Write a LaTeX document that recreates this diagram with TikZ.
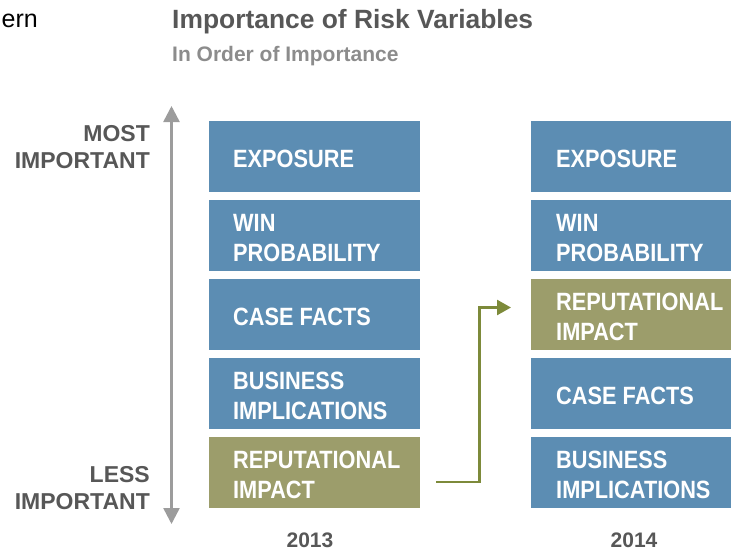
\documentclass[tikz,border=0pt]{standalone}
\usepackage{fontspec}
\setmainfont{Liberation Sans}
\newfontfamily\condfont[FakeStretch=0.87]{Liberation Sans}
\usetikzlibrary{arrows.meta}
\definecolor{boxblue}{HTML}{5C8DB3}
\definecolor{boxolive}{HTML}{9C9D6B}
\definecolor{lineolive}{HTML}{7D8A3A}
\definecolor{darktxt}{HTML}{575757}
\definecolor{subtxt}{HTML}{8C8C8C}
\definecolor{axisgray}{HTML}{9C9C9C}
\tikzset{
  box/.style={rectangle, inner sep=0pt, minimum height=71pt, anchor=north west},
  lbox/.style={box, minimum width=211pt},
  rbox/.style={box, minimum width=200pt},
  blue/.style={fill=boxblue},
  olive/.style={fill=boxolive},
  boxtext/.style={inner sep=0pt, anchor=west, align=left, text=white,
    font=\condfont\bfseries\fontsize{25}{30}\selectfont, yshift=-2pt},
  sidelabel/.style={inner sep=0pt, anchor=east, align=right, text=darktxt,
    font=\bfseries\fontsize{23}{27.5}\selectfont},
  yearlabel/.style={inner sep=0pt, text=darktxt, font=\bfseries\fontsize{21}{25}\selectfont},
  axis/.style={draw=axisgray, line width=2.5pt, {Triangle[width=16pt,length=16pt]}-{Triangle[width=16pt,length=16pt]}},
  moveline/.style={draw=lineolive, line width=2.5pt, -{Triangle[width=15pt,length=14pt]}}
}
\begin{document}
\begin{tikzpicture}[x=1pt,y=-1pt]
\useasboundingbox (0,0) rectangle (731,552);
% header
\node[inner sep=0pt, anchor=base east, font=\fontsize{25}{30}\selectfont] (ern) at (38,27) {ern};
\node[inner sep=0pt, anchor=base west, text=darktxt, font=\bfseries\fontsize{26.4}{30}\selectfont] (title) at (172,28) {Importance of Risk Variables};
\node[inner sep=0pt, anchor=base west, text=subtxt, font=\bfseries\fontsize{21}{25}\selectfont] (sub) at (172,61) {In Order of Importance};
% axis
\coordinate (axtop) at (171.5,106);
\coordinate (axbot) at (171.5,524);
\draw[axis] (axbot) -- (axtop);
\node[sidelabel] (most) at (150,147) {MOST\\IMPORTANT};
\node[sidelabel] (less) at (150,488) {LESS\\IMPORTANT};
% 2013 column
\node[lbox, blue]  (a1) at (209,121) {};
\node[lbox, blue]  (a2) at (209,200) {};
\node[lbox, blue]  (a3) at (209,279) {};
\node[lbox, blue]  (a4) at (209,358) {};
\node[lbox, olive] (a5) at (209,437) {};
\node[boxtext] (ta1) at ([xshift=24pt]a1.west) {EXPOSURE};
\node[boxtext] (ta2) at ([xshift=24pt]a2.west) {WIN\\PROBABILITY};
\node[boxtext] (ta3) at ([xshift=24pt]a3.west) {CASE FACTS};
\node[boxtext] (ta4) at ([xshift=24pt]a4.west) {BUSINESS\\IMPLICATIONS};
\node[boxtext] (ta5) at ([xshift=24pt]a5.west) {REPUTATIONAL\\IMPACT};
% 2014 column
\node[rbox, blue]  (b1) at (531,121) {};
\node[rbox, blue]  (b2) at (531,200) {};
\node[rbox, olive] (b3) at (531,279) {};
\node[rbox, blue]  (b4) at (531,358) {};
\node[rbox, blue]  (b5) at (531,437) {};
\node[boxtext] (tb1) at ([xshift=25pt]b1.west) {EXPOSURE};
\node[boxtext] (tb2) at ([xshift=25pt]b2.west) {WIN\\PROBABILITY};
\node[boxtext] (tb3) at ([xshift=25pt]b3.west) {REPUTATIONAL\\IMPACT};
\node[boxtext] (tb4) at ([xshift=25pt]b4.west) {CASE FACTS};
\node[boxtext] (tb5) at ([xshift=25pt]b5.west) {BUSINESS\\IMPLICATIONS};
% years
\node[yearlabel] (y13) at (310,540.5) {2013};
\node[yearlabel] (y14) at (634,540) {2014};
% move arrow
\coordinate (ms) at (436,482);
\coordinate (me) at (511,307.5);
\draw[moveline] (ms) -- ++(43.5,0) |- (me);
\end{tikzpicture}
\end{document}
